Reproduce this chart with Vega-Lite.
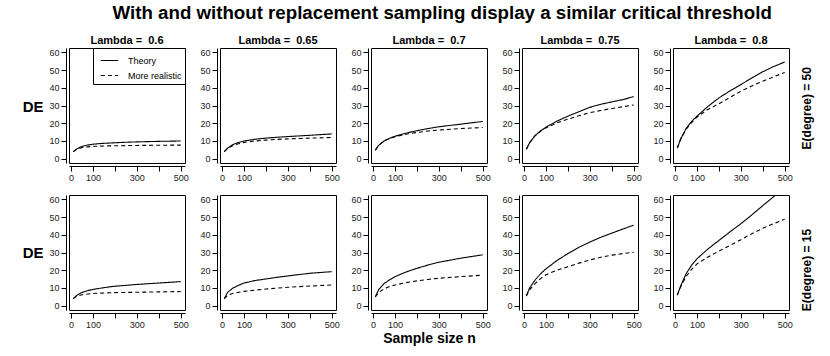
{
  "$schema": "https://vega.github.io/schema/vega-lite/v6.json",
  "padding": {"left": 21, "right": 8, "top": 4, "bottom": 5},
  "title": {"text": "With and without replacement sampling display a similar critical threshold", "fontSize": 18.7, "fontWeight": "bold", "anchor": "middle", "offset": 11, "color": "black", "dx": 25},
  "data": {"values": [
    {"e":50,"l":"0.6","n":10,"Theory":4,"More realistic":4},
    {"e":50,"l":"0.6","n":25,"Theory":5.5,"More realistic":5.3},
    {"e":50,"l":"0.6","n":50,"Theory":7,"More realistic":6.3},
    {"e":50,"l":"0.6","n":75,"Theory":7.7,"More realistic":6.7},
    {"e":50,"l":"0.6","n":100,"Theory":8.2,"More realistic":7},
    {"e":50,"l":"0.6","n":150,"Theory":8.7,"More realistic":7.2},
    {"e":50,"l":"0.6","n":200,"Theory":9,"More realistic":7.3},
    {"e":50,"l":"0.6","n":250,"Theory":9.3,"More realistic":7.4},
    {"e":50,"l":"0.6","n":300,"Theory":9.5,"More realistic":7.5},
    {"e":50,"l":"0.6","n":400,"Theory":9.8,"More realistic":7.6},
    {"e":50,"l":"0.6","n":500,"Theory":10,"More realistic":7.7},
    {"e":50,"l":"0.65","n":10,"Theory":4,"More realistic":4},
    {"e":50,"l":"0.65","n":25,"Theory":6,"More realistic":5.8},
    {"e":50,"l":"0.65","n":50,"Theory":8,"More realistic":7.5},
    {"e":50,"l":"0.65","n":75,"Theory":9.2,"More realistic":8.5},
    {"e":50,"l":"0.65","n":100,"Theory":10,"More realistic":9.2},
    {"e":50,"l":"0.65","n":150,"Theory":11,"More realistic":10},
    {"e":50,"l":"0.65","n":200,"Theory":11.6,"More realistic":10.5},
    {"e":50,"l":"0.65","n":250,"Theory":12.1,"More realistic":10.9},
    {"e":50,"l":"0.65","n":300,"Theory":12.5,"More realistic":11.2},
    {"e":50,"l":"0.65","n":400,"Theory":13.2,"More realistic":11.6},
    {"e":50,"l":"0.65","n":500,"Theory":14,"More realistic":12},
    {"e":50,"l":"0.7","n":10,"Theory":4.8,"More realistic":4.8},
    {"e":50,"l":"0.7","n":25,"Theory":7.5,"More realistic":7.5},
    {"e":50,"l":"0.7","n":50,"Theory":10,"More realistic":10},
    {"e":50,"l":"0.7","n":75,"Theory":11.5,"More realistic":11.4},
    {"e":50,"l":"0.7","n":100,"Theory":12.7,"More realistic":12.4},
    {"e":50,"l":"0.7","n":150,"Theory":14.4,"More realistic":13.8},
    {"e":50,"l":"0.7","n":200,"Theory":15.8,"More realistic":14.8},
    {"e":50,"l":"0.7","n":250,"Theory":17,"More realistic":15.6},
    {"e":50,"l":"0.7","n":300,"Theory":18,"More realistic":16.2},
    {"e":50,"l":"0.7","n":400,"Theory":19.5,"More realistic":17},
    {"e":50,"l":"0.7","n":500,"Theory":21,"More realistic":17.6},
    {"e":50,"l":"0.75","n":10,"Theory":5.3,"More realistic":5.3},
    {"e":50,"l":"0.75","n":25,"Theory":9,"More realistic":9},
    {"e":50,"l":"0.75","n":50,"Theory":13,"More realistic":13},
    {"e":50,"l":"0.75","n":75,"Theory":15.7,"More realistic":15.5},
    {"e":50,"l":"0.75","n":100,"Theory":17.8,"More realistic":17.4},
    {"e":50,"l":"0.75","n":150,"Theory":21.2,"More realistic":20.2},
    {"e":50,"l":"0.75","n":200,"Theory":24,"More realistic":22.3},
    {"e":50,"l":"0.75","n":250,"Theory":26.5,"More realistic":24.2},
    {"e":50,"l":"0.75","n":300,"Theory":29,"More realistic":26},
    {"e":50,"l":"0.75","n":350,"Theory":30.7,"More realistic":27.2},
    {"e":50,"l":"0.75","n":400,"Theory":32,"More realistic":28.3},
    {"e":50,"l":"0.75","n":450,"Theory":33.3,"More realistic":29.3},
    {"e":50,"l":"0.75","n":500,"Theory":35,"More realistic":30.3},
    {"e":50,"l":"0.8","n":10,"Theory":6,"More realistic":6},
    {"e":50,"l":"0.8","n":25,"Theory":11,"More realistic":11},
    {"e":50,"l":"0.8","n":50,"Theory":17,"More realistic":16.6},
    {"e":50,"l":"0.8","n":75,"Theory":21,"More realistic":20.3},
    {"e":50,"l":"0.8","n":100,"Theory":24,"More realistic":23.5},
    {"e":50,"l":"0.8","n":150,"Theory":29.5,"More realistic":27.8},
    {"e":50,"l":"0.8","n":200,"Theory":34.3,"More realistic":31},
    {"e":50,"l":"0.8","n":250,"Theory":38.2,"More realistic":34.6},
    {"e":50,"l":"0.8","n":300,"Theory":41.8,"More realistic":38},
    {"e":50,"l":"0.8","n":350,"Theory":45.5,"More realistic":41},
    {"e":50,"l":"0.8","n":400,"Theory":49,"More realistic":43.7},
    {"e":50,"l":"0.8","n":450,"Theory":52,"More realistic":46.2},
    {"e":50,"l":"0.8","n":500,"Theory":54.5,"More realistic":48.6},
    {"e":15,"l":"0.6","n":10,"Theory":4,"More realistic":4},
    {"e":15,"l":"0.6","n":25,"Theory":5.8,"More realistic":5.3},
    {"e":15,"l":"0.6","n":50,"Theory":7.5,"More realistic":6.2},
    {"e":15,"l":"0.6","n":75,"Theory":8.5,"More realistic":6.6},
    {"e":15,"l":"0.6","n":100,"Theory":9.2,"More realistic":6.9},
    {"e":15,"l":"0.6","n":150,"Theory":10.2,"More realistic":7.2},
    {"e":15,"l":"0.6","n":200,"Theory":11,"More realistic":7.4},
    {"e":15,"l":"0.6","n":250,"Theory":11.5,"More realistic":7.5},
    {"e":15,"l":"0.6","n":300,"Theory":12,"More realistic":7.6},
    {"e":15,"l":"0.6","n":400,"Theory":12.8,"More realistic":7.8},
    {"e":15,"l":"0.6","n":500,"Theory":13.6,"More realistic":8},
    {"e":15,"l":"0.65","n":10,"Theory":4,"More realistic":4},
    {"e":15,"l":"0.65","n":25,"Theory":7.5,"More realistic":5.8},
    {"e":15,"l":"0.65","n":50,"Theory":10,"More realistic":7},
    {"e":15,"l":"0.65","n":75,"Theory":11.5,"More realistic":7.6},
    {"e":15,"l":"0.65","n":100,"Theory":12.8,"More realistic":8.1},
    {"e":15,"l":"0.65","n":150,"Theory":14.2,"More realistic":8.8},
    {"e":15,"l":"0.65","n":200,"Theory":15.1,"More realistic":9.4},
    {"e":15,"l":"0.65","n":250,"Theory":16,"More realistic":9.9},
    {"e":15,"l":"0.65","n":300,"Theory":16.8,"More realistic":10.4},
    {"e":15,"l":"0.65","n":400,"Theory":18.3,"More realistic":11.1},
    {"e":15,"l":"0.65","n":500,"Theory":19.2,"More realistic":11.7},
    {"e":15,"l":"0.7","n":10,"Theory":5,"More realistic":5},
    {"e":15,"l":"0.7","n":25,"Theory":9,"More realistic":7.5},
    {"e":15,"l":"0.7","n":50,"Theory":12.5,"More realistic":9.5},
    {"e":15,"l":"0.7","n":75,"Theory":14.6,"More realistic":10.8},
    {"e":15,"l":"0.7","n":100,"Theory":16.4,"More realistic":11.7},
    {"e":15,"l":"0.7","n":150,"Theory":19,"More realistic":13},
    {"e":15,"l":"0.7","n":200,"Theory":21.1,"More realistic":14},
    {"e":15,"l":"0.7","n":250,"Theory":22.9,"More realistic":14.8},
    {"e":15,"l":"0.7","n":300,"Theory":24.5,"More realistic":15.5},
    {"e":15,"l":"0.7","n":400,"Theory":26.8,"More realistic":16.4},
    {"e":15,"l":"0.7","n":500,"Theory":28.7,"More realistic":17.2},
    {"e":15,"l":"0.75","n":10,"Theory":5.5,"More realistic":5.5},
    {"e":15,"l":"0.75","n":25,"Theory":10,"More realistic":9},
    {"e":15,"l":"0.75","n":50,"Theory":14.5,"More realistic":12.5},
    {"e":15,"l":"0.75","n":75,"Theory":18,"More realistic":15.3},
    {"e":15,"l":"0.75","n":100,"Theory":20.8,"More realistic":17.5},
    {"e":15,"l":"0.75","n":150,"Theory":25.5,"More realistic":20},
    {"e":15,"l":"0.75","n":200,"Theory":29.4,"More realistic":22},
    {"e":15,"l":"0.75","n":250,"Theory":32.9,"More realistic":24},
    {"e":15,"l":"0.75","n":300,"Theory":35.9,"More realistic":25.8},
    {"e":15,"l":"0.75","n":350,"Theory":38.6,"More realistic":27.3},
    {"e":15,"l":"0.75","n":400,"Theory":40.9,"More realistic":28.5},
    {"e":15,"l":"0.75","n":450,"Theory":43.2,"More realistic":29.4},
    {"e":15,"l":"0.75","n":500,"Theory":45.4,"More realistic":30.1},
    {"e":15,"l":"0.8","n":10,"Theory":6,"More realistic":6},
    {"e":15,"l":"0.8","n":25,"Theory":11,"More realistic":10.5},
    {"e":15,"l":"0.8","n":50,"Theory":18,"More realistic":16.5},
    {"e":15,"l":"0.8","n":75,"Theory":22.8,"More realistic":20.5},
    {"e":15,"l":"0.8","n":100,"Theory":26.5,"More realistic":23.6},
    {"e":15,"l":"0.8","n":150,"Theory":32,"More realistic":27.5},
    {"e":15,"l":"0.8","n":200,"Theory":36.8,"More realistic":30.8},
    {"e":15,"l":"0.8","n":250,"Theory":41.6,"More realistic":34},
    {"e":15,"l":"0.8","n":300,"Theory":46.2,"More realistic":37.2},
    {"e":15,"l":"0.8","n":350,"Theory":51.2,"More realistic":40.6},
    {"e":15,"l":"0.8","n":400,"Theory":56.4,"More realistic":43.6},
    {"e":15,"l":"0.8","n":450,"Theory":61.5,"More realistic":46.3},
    {"e":15,"l":"0.8","n":500,"Theory":66.5,"More realistic":48.7}
  ]},
  "transform": [{"fold": ["Theory", "More realistic"], "as": ["type", "de"]}],
  "spacing": 11,
  "resolve": {"legend": {"strokeDash": "independent"}, "scale": {"strokeDash": "independent"}},
  "vconcat": [
    {
      "title": {"text": "E(degree) = 50", "orient": "right", "angle": 270, "fontSize": 12, "fontWeight": "bold", "anchor": "middle", "offset": 0, "dy": -3, "color": "black"},
      "spacing": 10,
      "resolve": {"legend": {"strokeDash": "independent"}, "scale": {"strokeDash": "independent"}},
      "hconcat": [
        {"width": 116, "height": 115, "title": "Lambda = \u00a00.6",
         "transform": [{"filter": "datum.e == 50 && datum.l == '0.6'"}],
         "mark": {"type": "line", "clip": true, "color": "black", "strokeWidth": 1.1},
         "encoding": {
           "x": {"field": "n", "type": "quantitative", "scale": {"domain": [-9.6, 519.6], "nice": false, "zero": false}, "axis": {"title": null, "values": [0, 100, 200, 300, 400, 500], "labelExpr": "datum.value == 200 || datum.value == 400 ? '' : datum.label"}},
           "y": {"field": "de", "type": "quantitative", "scale": {"domain": [-2.4, 62.4], "nice": false, "zero": false}, "axis": {"title": "DE", "titleY": 58, "values": [0, 10, 20, 30, 40, 50, 60]}},
           "strokeDash": {"field": "type", "type": "nominal", "scale": {"domain": ["Theory", "More realistic"], "range": [[1, 0], [4, 3]]},
             "legend": {"title": null, "orient": "top-right", "offset": 0, "strokeColor": "black", "fillColor": "white", "padding": 3, "symbolType": "stroke", "symbolSize": 300, "symbolOffset": 4, "symbolStrokeWidth": 1.1, "symbolStrokeColor": "black", "labelFontSize": 9, "labelColor": "black", "rowPadding": -8, "labelOffset": 9}}
         }},
        {"width": 116, "height": 115, "title": "Lambda = \u00a00.65",
         "transform": [{"filter": "datum.e == 50 && datum.l == '0.65'"}],
         "mark": {"type": "line", "clip": true, "color": "black", "strokeWidth": 1.1},
         "encoding": {
           "x": {"field": "n", "type": "quantitative", "scale": {"domain": [-9.6, 519.6], "nice": false, "zero": false}, "axis": {"title": null, "values": [0, 100, 200, 300, 400, 500], "labelExpr": "datum.value == 200 || datum.value == 400 ? '' : datum.label"}},
           "y": {"field": "de", "type": "quantitative", "scale": {"domain": [-2.4, 62.4], "nice": false, "zero": false}, "axis": {"title": null, "values": [0, 10, 20, 30, 40, 50, 60]}},
           "strokeDash": {"field": "type", "type": "nominal", "scale": {"domain": ["Theory", "More realistic"], "range": [[1, 0], [4, 3]]}, "legend": null}
         }},
        {"width": 116, "height": 115, "title": "Lambda = \u00a00.7",
         "transform": [{"filter": "datum.e == 50 && datum.l == '0.7'"}],
         "mark": {"type": "line", "clip": true, "color": "black", "strokeWidth": 1.1},
         "encoding": {
           "x": {"field": "n", "type": "quantitative", "scale": {"domain": [-9.6, 519.6], "nice": false, "zero": false}, "axis": {"title": null, "values": [0, 100, 200, 300, 400, 500], "labelExpr": "datum.value == 200 || datum.value == 400 ? '' : datum.label"}},
           "y": {"field": "de", "type": "quantitative", "scale": {"domain": [-2.4, 62.4], "nice": false, "zero": false}, "axis": {"title": null, "values": [0, 10, 20, 30, 40, 50, 60]}},
           "strokeDash": {"field": "type", "type": "nominal", "scale": {"domain": ["Theory", "More realistic"], "range": [[1, 0], [4, 3]]}, "legend": null}
         }},
        {"width": 116, "height": 115, "title": "Lambda = \u00a00.75",
         "transform": [{"filter": "datum.e == 50 && datum.l == '0.75'"}],
         "mark": {"type": "line", "clip": true, "color": "black", "strokeWidth": 1.1},
         "encoding": {
           "x": {"field": "n", "type": "quantitative", "scale": {"domain": [-9.6, 519.6], "nice": false, "zero": false}, "axis": {"title": null, "values": [0, 100, 200, 300, 400, 500], "labelExpr": "datum.value == 200 || datum.value == 400 ? '' : datum.label"}},
           "y": {"field": "de", "type": "quantitative", "scale": {"domain": [-2.4, 62.4], "nice": false, "zero": false}, "axis": {"title": null, "values": [0, 10, 20, 30, 40, 50, 60]}},
           "strokeDash": {"field": "type", "type": "nominal", "scale": {"domain": ["Theory", "More realistic"], "range": [[1, 0], [4, 3]]}, "legend": null}
         }},
        {"width": 116, "height": 115, "title": "Lambda = \u00a00.8",
         "transform": [{"filter": "datum.e == 50 && datum.l == '0.8'"}],
         "mark": {"type": "line", "clip": true, "color": "black", "strokeWidth": 1.1},
         "encoding": {
           "x": {"field": "n", "type": "quantitative", "scale": {"domain": [-9.6, 519.6], "nice": false, "zero": false}, "axis": {"title": null, "values": [0, 100, 200, 300, 400, 500], "labelExpr": "datum.value == 200 || datum.value == 400 ? '' : datum.label"}},
           "y": {"field": "de", "type": "quantitative", "scale": {"domain": [-2.4, 62.4], "nice": false, "zero": false}, "axis": {"title": null, "values": [0, 10, 20, 30, 40, 50, 60]}},
           "strokeDash": {"field": "type", "type": "nominal", "scale": {"domain": ["Theory", "More realistic"], "range": [[1, 0], [4, 3]]}, "legend": null}
         }}
      ]
    },
    {
      "title": {"text": "E(degree) = 15", "orient": "right", "angle": 270, "fontSize": 12, "fontWeight": "bold", "anchor": "middle", "offset": 0, "dy": -3, "color": "black"},
      "spacing": 10,
      "resolve": {"legend": {"strokeDash": "independent"}, "scale": {"strokeDash": "independent"}},
      "hconcat": [
        {"width": 116, "height": 115,
         "transform": [{"filter": "datum.e == 15 && datum.l == '0.6'"}],
         "mark": {"type": "line", "clip": true, "color": "black", "strokeWidth": 1.1},
         "encoding": {
           "x": {"field": "n", "type": "quantitative", "scale": {"domain": [-9.6, 519.6], "nice": false, "zero": false}, "axis": {"title": null, "values": [0, 100, 200, 300, 400, 500], "labelExpr": "datum.value == 200 || datum.value == 400 ? '' : datum.label"}},
           "y": {"field": "de", "type": "quantitative", "scale": {"domain": [-2.4, 62.4], "nice": false, "zero": false}, "axis": {"title": "DE", "values": [0, 10, 20, 30, 40, 50, 60]}},
           "strokeDash": {"field": "type", "type": "nominal", "scale": {"domain": ["Theory", "More realistic"], "range": [[1, 0], [4, 3]]}, "legend": null}
         }},
        {"width": 116, "height": 115,
         "transform": [{"filter": "datum.e == 15 && datum.l == '0.65'"}],
         "mark": {"type": "line", "clip": true, "color": "black", "strokeWidth": 1.1},
         "encoding": {
           "x": {"field": "n", "type": "quantitative", "scale": {"domain": [-9.6, 519.6], "nice": false, "zero": false}, "axis": {"title": null, "values": [0, 100, 200, 300, 400, 500], "labelExpr": "datum.value == 200 || datum.value == 400 ? '' : datum.label"}},
           "y": {"field": "de", "type": "quantitative", "scale": {"domain": [-2.4, 62.4], "nice": false, "zero": false}, "axis": {"title": null, "values": [0, 10, 20, 30, 40, 50, 60]}},
           "strokeDash": {"field": "type", "type": "nominal", "scale": {"domain": ["Theory", "More realistic"], "range": [[1, 0], [4, 3]]}, "legend": null}
         }},
        {"width": 116, "height": 115,
         "transform": [{"filter": "datum.e == 15 && datum.l == '0.7'"}],
         "mark": {"type": "line", "clip": true, "color": "black", "strokeWidth": 1.1},
         "encoding": {
           "x": {"field": "n", "type": "quantitative", "scale": {"domain": [-9.6, 519.6], "nice": false, "zero": false}, "axis": {"title": "Sample size n", "titleFontSize": 14, "titleFontWeight": "bold", "titleColor": "black", "titlePadding": 2, "values": [0, 100, 200, 300, 400, 500], "labelExpr": "datum.value == 200 || datum.value == 400 ? '' : datum.label"}},
           "y": {"field": "de", "type": "quantitative", "scale": {"domain": [-2.4, 62.4], "nice": false, "zero": false}, "axis": {"title": null, "values": [0, 10, 20, 30, 40, 50, 60]}},
           "strokeDash": {"field": "type", "type": "nominal", "scale": {"domain": ["Theory", "More realistic"], "range": [[1, 0], [4, 3]]}, "legend": null}
         }},
        {"width": 116, "height": 115,
         "transform": [{"filter": "datum.e == 15 && datum.l == '0.75'"}],
         "mark": {"type": "line", "clip": true, "color": "black", "strokeWidth": 1.1},
         "encoding": {
           "x": {"field": "n", "type": "quantitative", "scale": {"domain": [-9.6, 519.6], "nice": false, "zero": false}, "axis": {"title": null, "values": [0, 100, 200, 300, 400, 500], "labelExpr": "datum.value == 200 || datum.value == 400 ? '' : datum.label"}},
           "y": {"field": "de", "type": "quantitative", "scale": {"domain": [-2.4, 62.4], "nice": false, "zero": false}, "axis": {"title": null, "values": [0, 10, 20, 30, 40, 50, 60]}},
           "strokeDash": {"field": "type", "type": "nominal", "scale": {"domain": ["Theory", "More realistic"], "range": [[1, 0], [4, 3]]}, "legend": null}
         }},
        {"width": 116, "height": 115,
         "transform": [{"filter": "datum.e == 15 && datum.l == '0.8'"}],
         "mark": {"type": "line", "clip": true, "color": "black", "strokeWidth": 1.1},
         "encoding": {
           "x": {"field": "n", "type": "quantitative", "scale": {"domain": [-9.6, 519.6], "nice": false, "zero": false}, "axis": {"title": null, "values": [0, 100, 200, 300, 400, 500], "labelExpr": "datum.value == 200 || datum.value == 400 ? '' : datum.label"}},
           "y": {"field": "de", "type": "quantitative", "scale": {"domain": [-2.4, 62.4], "nice": false, "zero": false}, "axis": {"title": null, "values": [0, 10, 20, 30, 40, 50, 60]}},
           "strokeDash": {"field": "type", "type": "nominal", "scale": {"domain": ["Theory", "More realistic"], "range": [[1, 0], [4, 3]]}, "legend": null}
         }}
      ]
    }
  ],
  "config": {
    "font": "Liberation Sans",
    "view": {"stroke": "black", "strokeWidth": 1},
    "axis": {"grid": false, "domainColor": "black", "tickColor": "black", "labelColor": "#222", "labelFontSize": 9, "tickSize": 5, "labelOverlap": false, "labelFlush": false, "offset": 3, "labelPadding": 2},
    "axisY": {"titleAngle": 0, "titleAlign": "right", "titleBaseline": "middle", "titleFontSize": 15, "titleFontWeight": "bold", "titleColor": "black", "titlePadding": 6, "labelPadding": 2},
    "title": {"fontSize": 11, "fontWeight": "bold", "color": "black", "offset": 2}
  }
}
